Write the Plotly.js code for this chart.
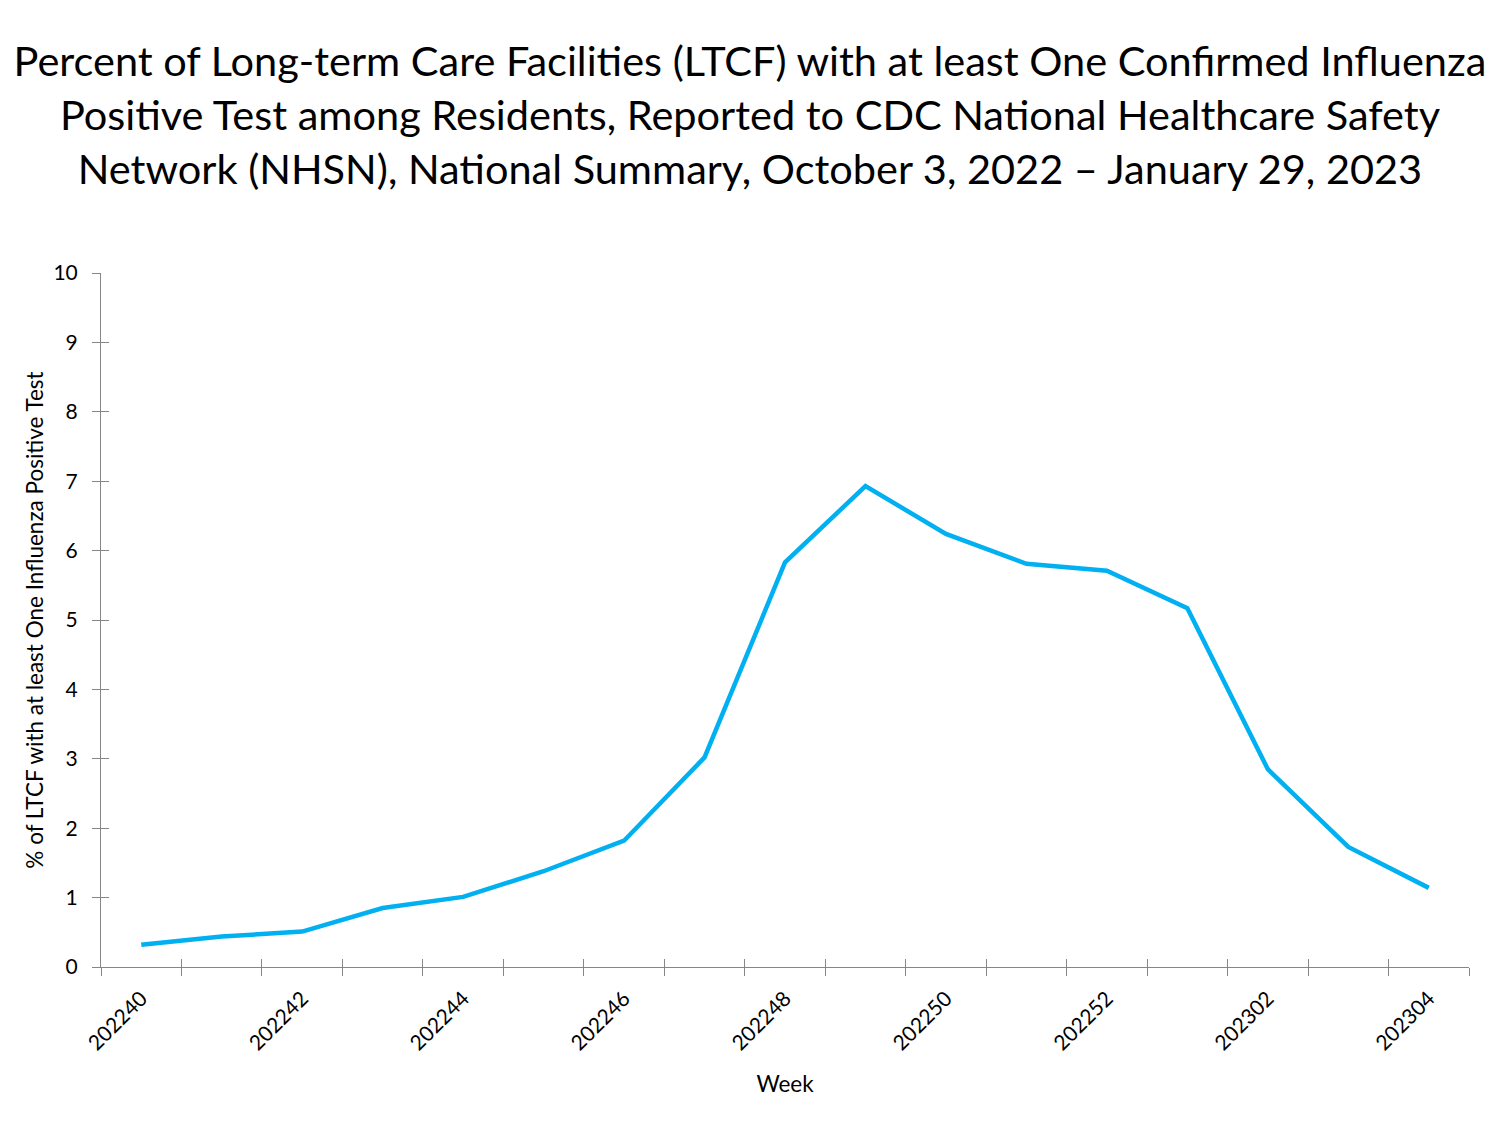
<!DOCTYPE html>
<html>
<head>
<meta charset="utf-8">
<script src="https://cdn.plot.ly/plotly-3.0.1.min.js"></script>
<style>
  html, body { margin: 0; padding: 0; background: #fff; }
  #chart { width: 1500px; height: 1125px; outline: 1px dotted #b8c8b8; outline-offset: -1px; }
</style>
</head>
<body>
<div id="chart"></div>
<script>
const weeks = ["202240","202241","202242","202243","202244","202245","202246","202247","202248",
               "202249","202250","202251","202252","202301","202302","202303","202304"];
const pctLTCF = [0.32, 0.44, 0.51, 0.85, 1.01, 1.38, 1.82, 3.02, 5.83,
                 6.93, 6.24, 5.81, 5.71, 5.17, 2.85, 1.73, 1.14];
const labelWeeks = weeks.filter((w, i) => i % 2 === 0);
const yTicks = [0,1,2,3,4,5,6,7,8,9,10];

const FONT = "Lato, 'Open Sans', sans-serif";
const AXC = "#868686";
const n = weeks.length;
const boundaries = Array.from({length: n + 1}, (_, i) => i - 0.5);
const xr = [-0.5, n - 0.5];
const idx = weeks.map((w, i) => i);

const trace = {
  x: weeks, y: pctLTCF, type: "scatter", mode: "lines",
  line: {color: "#00B0F0", width: 4.5},
  hoverinfo: "x+y"
};
// invisible helper traces so the overlay tick axes get drawn
const helperA = {x: idx, y: pctLTCF, xaxis: "x2", yaxis: "y2", type: "scatter", mode: "lines",
  line: {width: 0, color: "rgba(0,0,0,0)"}, hoverinfo: "skip", showlegend: false};
const helperB = {x: idx, y: pctLTCF, xaxis: "x3", yaxis: "y2", type: "scatter", mode: "lines",
  line: {width: 0, color: "rgba(0,0,0,0)"}, hoverinfo: "skip", showlegend: false};

const layout = {
  width: 1500, height: 1125,
  paper_bgcolor: "#fff", plot_bgcolor: "#fff",
  margin: {l: 101, r: 31, t: 273, b: 158},
  showlegend: false,
  font: {family: FONT, color: "#000"},
  title: {
    text: "Percent of Long-term Care Facilities (LTCF) with at least One Confirmed Influenza<br>Positive Test among Residents, Reported to CDC National Healthcare Safety<br>Network (NHSN), National Summary, October 3, 2022 \u2013 January 29, 2023",
    font: {family: FONT, size: 41.5, color: "#000"},
    x: 0.5, xref: "container", y: 1 - 76/1125, yref: "container", yanchor: "middle"
  },
  xaxis: {
    type: "category", range: xr,
    tickmode: "array", tickvals: labelWeeks, ticktext: labelWeeks,
    ticks: "", tickangle: -45, tickfont: {size: 21, family: FONT}, ticklabelstandoff: 10,
    showline: true, linecolor: AXC, linewidth: 1,
    showgrid: false, zeroline: false,
    title: {text: "Week", font: {size: 22.5, family: FONT}, standoff: 22}
  },
  xaxis2: {
    overlaying: "x", anchor: "y", type: "linear", range: xr,
    tickmode: "array", tickvals: boundaries, ticks: "outside", ticklen: 8,
    tickcolor: AXC, showticklabels: false, showline: false, showgrid: false, zeroline: false
  },
  xaxis3: {
    overlaying: "x", anchor: "y", type: "linear", range: xr,
    tickmode: "array", tickvals: boundaries, ticks: "inside", ticklen: 8,
    tickcolor: AXC, showticklabels: false, showline: false, showgrid: false, zeroline: false
  },
  yaxis: {
    range: [0, 10], tickmode: "array", tickvals: yTicks,
    ticks: "outside", ticklen: 8, tickcolor: AXC,
    tickfont: {size: 21, family: FONT}, ticklabelstandoff: 10,
    showline: true, linecolor: AXC, linewidth: 1,
    showgrid: false, zeroline: false,
    title: {text: "% of LTCF with at least One Influenza Positive Test", font: {size: 22.5, family: FONT}, standoff: 3}
  },
  yaxis2: {
    overlaying: "y", anchor: "x", range: [0, 10], tickmode: "array", tickvals: yTicks,
    ticks: "inside", ticklen: 8, tickcolor: AXC,
    showticklabels: false, showline: false, showgrid: false, zeroline: false
  }
};

Plotly.newPlot("chart", [helperA, helperB, trace], layout, {displayModeBar: false, staticPlot: true});
</script>
</body>
</html>
